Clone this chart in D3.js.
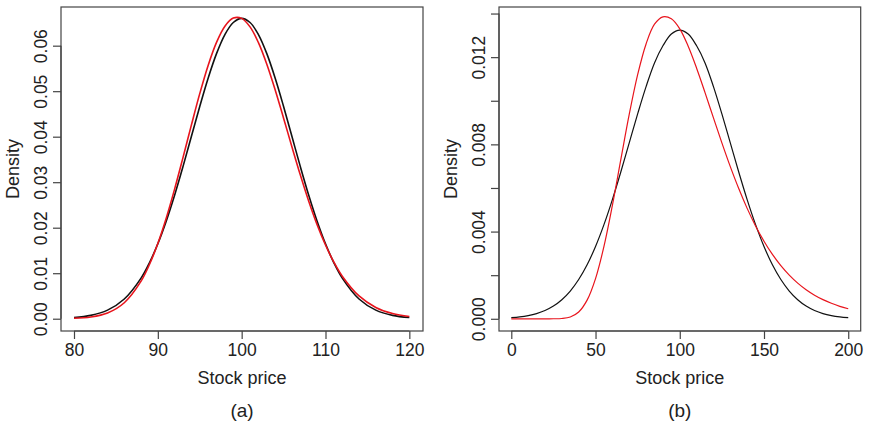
<!DOCTYPE html>
<html>
<head>
<meta charset="utf-8">
<script src="https://cdn.jsdelivr.net/npm/d3@7"></script>
<style>
  html, body { margin: 0; padding: 0; background: #fff; }
  svg text { font-family: "Liberation Sans", Arial, Helvetica, sans-serif; fill: #222; }
</style>
</head>
<body>
<svg id="chart" width="869" height="426"></svg>
<script>
// Panel (a): stock prices 80–120, normal vs lognormal density
const xA = [80, 82, 84, 86, 88, 89, 90, 91, 92, 93, 94, 95, 96, 97, 98, 99, 100,
            101, 102, 103, 104, 105, 106, 107, 108, 109, 110, 111, 112, 114, 116, 118, 120];
const normalA = [0.000255, 0.000733, 0.001886, 0.004336, 0.00893, 0.01229, 0.01646, 0.02143, 0.02713, 0.03342,
                 0.04003, 0.04664, 0.05285, 0.05825, 0.06244, 0.06509, 0.0660,
                 0.06509, 0.06244, 0.05825, 0.05285, 0.04664, 0.04003, 0.03342, 0.02713, 0.02143,
                 0.01646, 0.01229, 0.00893, 0.004336, 0.001886, 0.000733, 0.000255];
const lognormalA = [0.000092, 0.000374, 0.001258, 0.003513, 0.00826, 0.01192, 0.01654, 0.0221, 0.02848, 0.03541,
                    0.04254, 0.04946, 0.05567, 0.06073, 0.06428, 0.06606, 0.0660,
                    0.06413, 0.06067, 0.05592, 0.05026, 0.04407, 0.03773, 0.03157, 0.02583, 0.02067,
                    0.0162, 0.01243, 0.00935, 0.005, 0.00248, 0.00115, 0.0005];
const xTicksA = [80, 90, 100, 110, 120];
const yTicksA = [0, 0.01, 0.02, 0.03, 0.04, 0.05, 0.06];
const yLabelsA = ["0.00", "0.01", "0.02", "0.03", "0.04", "0.05", "0.06"];

// Panel (b): stock prices 0–200
const xB = [0, 5, 10, 15, 20, 25, 30, 35, 40, 45, 50, 55, 60, 65, 70, 75, 80, 85, 90, 95, 100,
            105, 110, 115, 120, 125, 130, 135, 140, 145, 150, 155, 160, 165, 170, 175, 180, 185, 190, 195, 200];
const normalB = [0.000051, 0.000088, 0.000148, 0.00024, 0.00038, 0.000584, 0.000874, 0.001272, 0.0018, 0.002477,
                 0.003316, 0.004317, 0.005467, 0.006733, 0.008066, 0.009397, 0.010648, 0.011736, 0.01252, 0.01306, 0.01324,
                 0.01306, 0.01252, 0.011736, 0.010648, 0.009397, 0.008066, 0.006733, 0.005467, 0.004317, 0.003316,
                 0.002477, 0.0018, 0.001272, 0.000874, 0.000584, 0.00038, 0.00024, 0.000148, 0.000088, 0.000051];
const lognormalB = [0, 0, 0, 0, 0, 0.000001, 0.000014, 0.000083, 0.000313, 0.000855,
                    0.001844, 0.00332, 0.005201, 0.007297, 0.00937, 0.011196, 0.012606, 0.01351, 0.01385, 0.01376, 0.013298,
                    0.012499, 0.011494, 0.010374, 0.009213, 0.008067, 0.006978, 0.005973, 0.005064, 0.004259, 0.003557,
                    0.002952, 0.002436, 0.002001, 0.001637, 0.001334, 0.001084, 0.000878, 0.00071, 0.000572, 0.000461];
const xTicksB = [0, 50, 100, 150, 200];
const yTicksB = [0, 0.002, 0.004, 0.006, 0.008, 0.010, 0.012, 0.014];
const yLabelsB = ["0.000", "", "0.004", "", "0.008", "", "0.012", ""];

const svg = d3.select("#chart");
const TICK = 8;
const axisColor = "#444";
const FONT = "'Liberation Sans', Arial, sans-serif";

function panel(opts) {
  const { left, right, top, bottom, xDomain, yDomain, xs, series, xTicks, yTicks, yLabels, tag, lw } = opts;
  const x = d3.scaleLinear().domain(xDomain).range([left, right]);
  const y = d3.scaleLinear().domain(yDomain).range([bottom, top]);
  const g = svg.append("g");

  // frame
  g.append("rect")
    .attr("x", left).attr("y", top)
    .attr("width", right - left).attr("height", bottom - top)
    .attr("fill", "none").attr("stroke", axisColor).attr("stroke-width", 1.2);

  // x axis
  const xAxis = d3.axisBottom(x).tickValues(xTicks).tickSize(TICK).tickPadding(5);
  const xg = g.append("g").attr("transform", `translate(0,${bottom})`).call(xAxis);
  xg.select(".domain").attr("stroke", axisColor).attr("stroke-width", 1.2)
    .attr("d", `M${x(xTicks[0])},0H${x(xTicks[xTicks.length - 1])}`);
  xg.selectAll(".tick line").attr("stroke", axisColor).attr("stroke-width", 1.2);
  xg.selectAll(".tick text").attr("font-size", 17.5).attr("fill", "#222").attr("font-family", FONT);

  // y axis with rotated labels
  const yAxis = d3.axisLeft(y).tickValues(yTicks).tickSize(TICK).tickFormat((d, i) => yLabels[i]);
  const yg = g.append("g").attr("transform", `translate(${left},0)`).call(yAxis);
  yg.select(".domain").attr("stroke", axisColor).attr("stroke-width", 1.2)
    .attr("d", `M0,${y(yTicks[0])}V${y(yTicks[yTicks.length - 1])}`);
  yg.selectAll(".tick line").attr("stroke", axisColor).attr("stroke-width", 1.2);
  yg.selectAll(".tick text")
    .attr("font-size", 17.5).attr("fill", "#222").attr("font-family", FONT)
    .attr("x", null).attr("dy", null)
    .attr("text-anchor", "middle")
    .attr("transform", `translate(${-TICK - 6},0) rotate(-90)`);

  // curves
  const line = d3.line().x((d) => x(d[0])).y((d) => y(d[1])).curve(d3.curveCatmullRom.alpha(0.5));
  series.forEach((s) => {
    g.append("path")
      .datum(xs.map((v, i) => [v, s.values[i]]))
      .attr("fill", "none").attr("stroke", s.color).attr("stroke-width", lw)
      .attr("d", line);
  });

  // titles
  const cx = (left + right) / 2;
  g.append("text").attr("x", cx).attr("y", 384).attr("text-anchor", "middle")
    .attr("font-size", 18).text("Stock price");
  g.append("text").attr("x", cx).attr("y", 417).attr("text-anchor", "middle")
    .attr("font-size", 19).text(tag);
  g.append("text")
    .attr("transform", `translate(${left - 42},${(top + bottom) / 2}) rotate(-90)`)
    .attr("text-anchor", "middle").attr("font-size", 18).text("Density");
}

panel({
  left: 61, right: 423, top: 7, bottom: 331,
  xDomain: [78.45, 121.63], yDomain: [-0.0027, 0.0685],
  xs: xA,
  series: [{ values: normalA, color: "#111" }, { values: lognormalA, color: "#e8141c" }],
  xTicks: xTicksA, yTicks: yTicksA, yLabels: yLabelsA, tag: "(a)", lw: 1.6
});

panel({
  left: 499, right: 860.7, top: 7, bottom: 331,
  xDomain: [-7.3, 207.4], yDomain: [-0.00056, 0.0143],
  xs: xB,
  series: [{ values: normalB, color: "#111" }, { values: lognormalB, color: "#e8141c" }],
  xTicks: xTicksB, yTicks: yTicksB, yLabels: yLabelsB, tag: "(b)", lw: 1.2
});
</script>
</body>
</html>
